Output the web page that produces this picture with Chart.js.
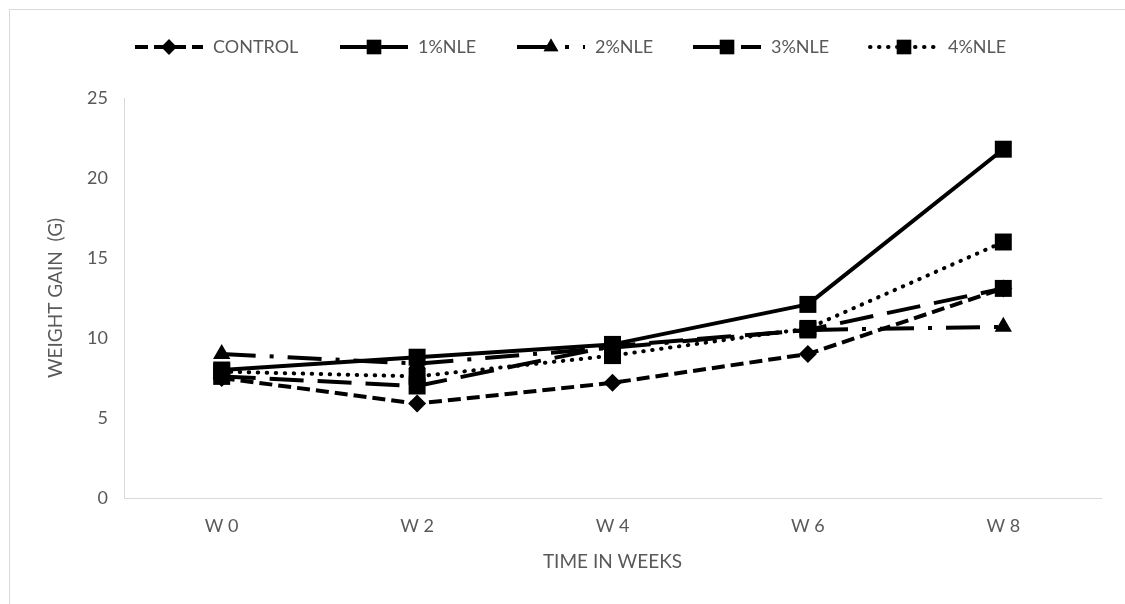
<!DOCTYPE html>
<html>
<head>
<meta charset="utf-8">
<script src="https://cdn.jsdelivr.net/npm/chart.js@4.4.1/dist/chart.umd.min.js"></script>
<style>
  html, body { margin: 0; padding: 0; background: #ffffff; }
  #wrap { position: relative; width: 1125px; height: 604px; }
</style>
</head>
<body>
<div id="wrap"><canvas id="chart" width="1125" height="604"></canvas></div>
<script>
// Weekly weight gain per treatment group
const weeks = ['W 0', 'W 2', 'W 4', 'W 6', 'W 8'];
const control = [7.5, 5.9, 7.2, 9.0, 13.1];
const nle1 = [8.0, 8.8, 9.6, 12.1, 21.8];
const nle2 = [9.0, 8.4, 9.4, 10.5, 10.7];
const nle3 = [7.6, 7.0, 9.5, 10.5, 13.1];
const nle4 = [7.9, 7.6, 8.9, 10.6, 16.0];
const yTicks = [0, 5, 10, 15, 20, 25];

const FONT = 'Lato, "Open Sans", sans-serif';
const TEXT = '#595959';
const AXIS = '#d9d9d9';

const seriesStyle = [
  { label: 'CONTROL', data: control, dash: [13, 6], cap: 'butt', point: 'rectRot', r: 9 },
  { label: '1%NLE', data: nle1, dash: [], cap: 'butt', point: 'rect', r: 12 },
  { label: '2%NLE', data: nle2, dash: [34, 14, 4, 14], cap: 'butt', point: 'triangle', r: 10 },
  { label: '3%NLE', data: nle3, dash: [34, 14], cap: 'butt', point: 'rect', r: 12 },
  { label: '4%NLE', data: nle4, dash: [0.5, 8.5], cap: 'round', point: 'rect', r: 12 }
];

const datasets = seriesStyle.map(s => ({
  label: s.label,
  data: s.data,
  borderColor: '#000000',
  backgroundColor: '#000000',
  borderWidth: 4,
  borderDash: s.dash,
  borderCapStyle: s.cap,
  borderJoinStyle: 'round',
  tension: 0,
  pointStyle: s.point,
  pointRadius: s.r,
  pointHoverRadius: s.r,
  pointBorderWidth: 0,
  pointBackgroundColor: '#000000'
}));

// Outer frame plus a legend that shows each line style with its marker
const framePlugin = {
  id: 'frameAndLegend',
  beforeDraw(chart) {
    const ctx = chart.ctx;
    ctx.save();
    ctx.strokeStyle = AXIS;
    ctx.lineWidth = 1;
    ctx.strokeRect(9.5, 9.5, 1300, 800);
    ctx.restore();
  },
  afterDraw(chart) {
    const ctx = chart.ctx;
    const lineLen = 68, textGap = 10, y = 47;
    const itemStarts = [135, 340, 517, 693, 870];
    ctx.save();
    ctx.font = '18px ' + FONT;
    seriesStyle.forEach((s, i) => {
      const x = itemStarts[i];
      ctx.strokeStyle = '#000';
      ctx.lineWidth = 4;
      ctx.setLineDash(s.dash);
      ctx.lineCap = s.cap;
      ctx.beginPath();
      ctx.moveTo(x, y);
      ctx.lineTo(x + lineLen, y);
      ctx.stroke();
      ctx.setLineDash([]);
      Chart.helpers.drawPoint(ctx, {
        pointStyle: s.point, radius: s.r * 0.85, rotation: 0, borderWidth: 0
      }, x + lineLen / 2, y);
      ctx.fillStyle = '#000';
      ctx.fill();
      ctx.fillStyle = TEXT;
      ctx.textBaseline = 'middle';
      ctx.textAlign = 'left';
      ctx.fillText(s.label, x + lineLen + textGap, y);
    });
    ctx.restore();
  }
};

new Chart(document.getElementById('chart'), {
  type: 'line',
  data: { labels: weeks, datasets },
  options: {
    responsive: false,
    animation: false,
    devicePixelRatio: 1,
    layout: { padding: { top: 98, right: 24, bottom: 0, left: 0 } },
    plugins: {
      legend: { display: false },
      tooltip: { enabled: false }
    },
    scales: {
      x: {
        offset: true,
        grid: { display: false, drawTicks: false },
        border: { display: true, color: AXIS, width: 1 },
        ticks: { color: TEXT, font: { family: FONT, size: 18 }, padding: 17 },
        title: {
          display: true, text: 'TIME IN WEEKS', color: TEXT,
          font: { family: FONT, size: 19 }, padding: { top: 0, bottom: 31 }
        },
        afterFit(scale) { scale.height = 106; }
      },
      y: {
        min: 0, max: 25,
        afterBuildTicks(scale) { scale.ticks = yTicks.map(v => ({ value: v })); },
        grid: { display: false, drawTicks: false },
        border: { display: true, color: AXIS, width: 1 },
        ticks: { color: TEXT, font: { family: FONT, size: 18 }, padding: 16 },
        title: {
          display: true, text: 'WEIGHT GAIN  (G)', color: TEXT,
          font: { family: FONT, size: 19 }, padding: { top: 44, bottom: 0 }
        },
        afterFit(scale) { scale.width = 124; }
      }
    }
  },
  plugins: [framePlugin]
});
</script>
</body>
</html>
